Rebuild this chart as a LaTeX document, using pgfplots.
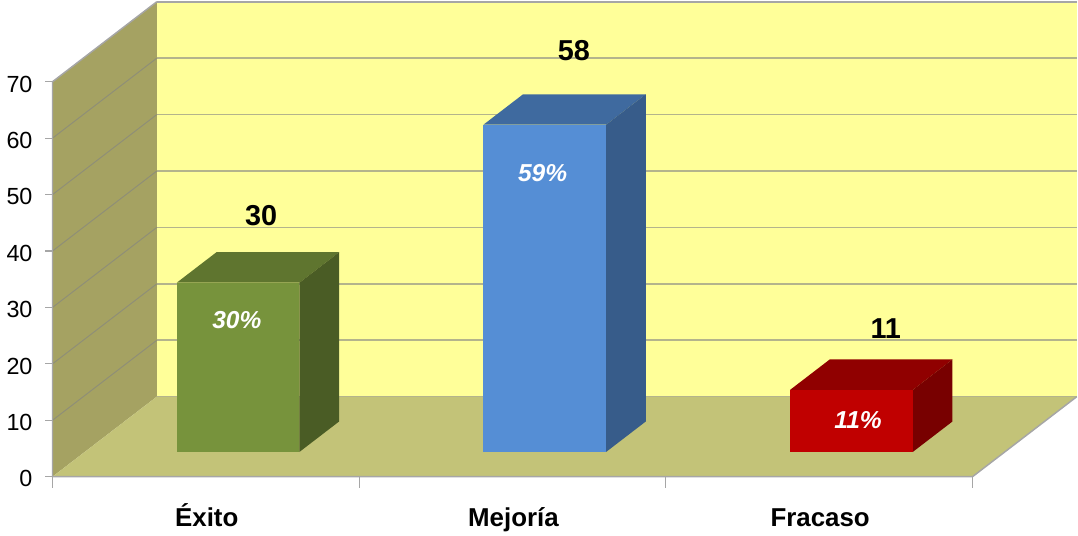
\documentclass[border=0pt]{standalone}
\usepackage{fontspec}
\setmainfont{Liberation Sans}
\usepackage{pgfplots}
\pgfplotsset{compat=1.18}
\definecolor{wallside}{HTML}{A5A262}
\definecolor{wallback}{HTML}{FFFF99}
\definecolor{floorc}{HTML}{C3C378}
\definecolor{gridback}{HTML}{B4B48C}
\definecolor{gridside}{HTML}{8E8E78}
\definecolor{edgec}{HTML}{A6A6A6}
\definecolor{gf}{HTML}{77933C}
\definecolor{gt}{HTML}{5F752F}
\definecolor{gs}{HTML}{4A5C25}
\definecolor{bf}{HTML}{558ED5}
\definecolor{bt}{HTML}{3F6A9F}
\definecolor{bs}{HTML}{375C8A}
\definecolor{rf}{HTML}{C00000}
\definecolor{rt}{HTML}{900000}
\definecolor{rs}{HTML}{780000}
\begin{document}
\begin{tikzpicture}
\begin{axis}[
  x={(230.03pt,0pt)}, y={(78.2pt,60pt)}, z={(0pt,4.232pt)},
  xmin=0, xmax=3, ymin=0, ymax=1, zmin=0, zmax=70,
  clip=false,
  axis line style={draw=none},
  ytick=\empty,
  ztick={0,10,20,30,40,50,60,70},
  xtick={0.5,1.5,2.5},
  xticklabels={Éxito,Mejoría,Fracaso},
  xtick pos=bottom,
  ztick pos=left,
  tick style={draw=none},
  /pgf/number format/assume math mode=true,
  zticklabel style={font=\fontsize{17.5}{20}\selectfont,text=black,anchor=east,xshift=-11.5pt,yshift=-1.7pt},
  xticklabel style={font=\fontsize{19.4}{22}\selectfont\bfseries,text=black,anchor=base,yshift=-37pt,xshift=0.7pt},
]
% invisible frame of the picture
\addplot3[draw=none] coordinates {(-0.1712,0,-9.96) (3.344,0,84.49)};
% walls and floor
\addplot3[fill=wallside,draw=none] coordinates {(0,0,0) (0,1,0) (0,1,70) (0,0,70)} --cycle;
\addplot3[fill=wallback,draw=none] coordinates {(0,1,0) (3,1,0) (3,1,70) (0,1,70)} --cycle;
\addplot3[fill=floorc,draw=none] coordinates {(0,0,0) (3,0,0) (3,1,0) (0,1,0)} --cycle;
% gridlines, back wall
\addplot3[gridback,line width=1.2pt] coordinates {(0,1,0) (3,1,0)};
\addplot3[gridback,line width=1.2pt] coordinates {(0,1,10) (3,1,10)};
\addplot3[gridback,line width=1.2pt] coordinates {(0,1,20) (3,1,20)};
\addplot3[gridback,line width=1.2pt] coordinates {(0,1,30) (3,1,30)};
\addplot3[gridback,line width=1.2pt] coordinates {(0,1,40) (3,1,40)};
\addplot3[gridback,line width=1.2pt] coordinates {(0,1,50) (3,1,50)};
\addplot3[gridback,line width=1.2pt] coordinates {(0,1,60) (3,1,60)};
\addplot3[edgec,line width=1.2pt] coordinates {(0,1,70) (3,1,70)};
% gridlines, side wall
\addplot3[gridside,line width=0.7pt] coordinates {(0,0,10) (0,1,10)};
\addplot3[gridside,line width=0.7pt] coordinates {(0,0,20) (0,1,20)};
\addplot3[gridside,line width=0.7pt] coordinates {(0,0,30) (0,1,30)};
\addplot3[gridside,line width=0.7pt] coordinates {(0,0,40) (0,1,40)};
\addplot3[gridside,line width=0.7pt] coordinates {(0,0,50) (0,1,50)};
\addplot3[gridside,line width=0.7pt] coordinates {(0,0,60) (0,1,60)};
% outer edges
\addplot3[edgec,line width=1.1pt] coordinates {(0,1,70) (0,0,70) (0,0,0) (3,0,0) (3,1,0)};
% tick marks
\pgfplotsinvokeforeach{0,10,20,30,40,50,60,70}{
  \addplot3[edgec,line width=0.8pt] coordinates {(-0.023,0,#1) (0,0,#1)};
}
\pgfplotsinvokeforeach{0,1,2,3}{
  \addplot3[edgec,line width=0.8pt] coordinates {(#1,0,-2) (#1,0,0)};
}
% Exito = 30
\addplot3[fill=gt,draw=none] coordinates {(0.3,0.31,30) (0.7,0.31,30) (0.7,0.69,30) (0.3,0.69,30)} --cycle;
\addplot3[fill=gs,draw=none] coordinates {(0.7,0.31,0) (0.7,0.69,0) (0.7,0.69,30) (0.7,0.31,30)} --cycle;
\addplot3[fill=gf,draw=none] coordinates {(0.3,0.31,0) (0.7,0.31,0) (0.7,0.31,30) (0.3,0.31,30)} --cycle;
% Mejoria = 58
\addplot3[fill=bt,draw=none] coordinates {(1.3,0.31,58) (1.7,0.31,58) (1.7,0.69,58) (1.3,0.69,58)} --cycle;
\addplot3[fill=bs,draw=none] coordinates {(1.7,0.31,0) (1.7,0.69,0) (1.7,0.69,58) (1.7,0.31,58)} --cycle;
\addplot3[fill=bf,draw=none] coordinates {(1.3,0.31,0) (1.7,0.31,0) (1.7,0.31,58) (1.3,0.31,58)} --cycle;
% Fracaso = 11
\addplot3[fill=rt,draw=none] coordinates {(2.3,0.31,11) (2.7,0.31,11) (2.7,0.69,11) (2.3,0.69,11)} --cycle;
\addplot3[fill=rs,draw=none] coordinates {(2.7,0.31,0) (2.7,0.69,0) (2.7,0.69,11) (2.7,0.31,11)} --cycle;
\addplot3[fill=rf,draw=none] coordinates {(2.3,0.31,0) (2.7,0.31,0) (2.7,0.31,11) (2.3,0.31,11)} --cycle;
% labels
\node[font=\fontsize{21.6}{24}\selectfont\bfseries] at (axis cs:0.68,0,46.3) {30};
\node[font=\fontsize{21.6}{24}\selectfont\bfseries] at (axis cs:1.70,0,75.5) {58};
\node[font=\fontsize{21.6}{24}\selectfont\bfseries] at (axis cs:2.717,0,26.3) {11};
\node[font=\fontsize{18.4}{20}\selectfont\bfseries\itshape,text=white] at (axis cs:0.601,0,27.8) {30\%};
\node[font=\fontsize{18.4}{20}\selectfont\bfseries\itshape,text=white] at (axis cs:1.598,0,53.9) {59\%};
\node[font=\fontsize{18.4}{20}\selectfont\bfseries\itshape,text=white] at (axis cs:2.627,0,10.1) {11\%};
\end{axis}
\end{tikzpicture}
\end{document}
